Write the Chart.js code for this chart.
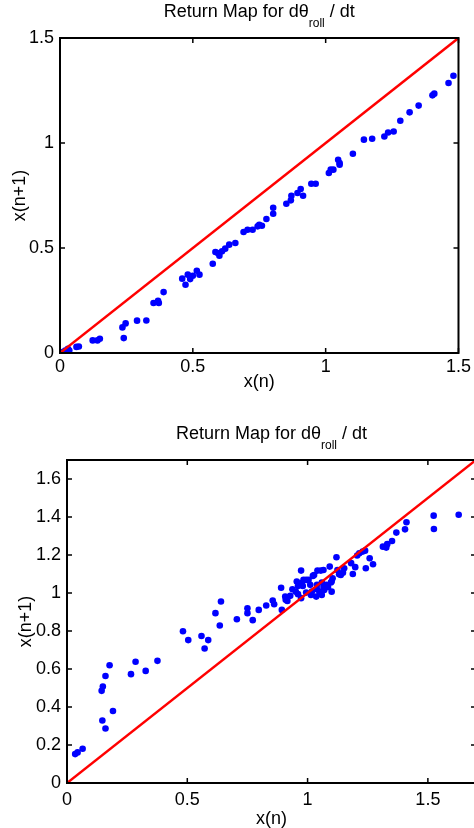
<!DOCTYPE html>
<html>
<head>
<meta charset="utf-8">
<title>Return Map</title>
<script src="https://cdn.jsdelivr.net/npm/chart.js@4.4.1/dist/chart.umd.min.js"></script>
<style>
  html, body { margin: 0; padding: 0; background: #fff; overflow: hidden; }
  canvas { position: absolute; left: 0; }
  #topChart { top: 0; }
  #bottomChart { top: 400px; }
</style>
</head>
<body>
<canvas id="topChart" width="474" height="400"></canvas>
<canvas id="bottomChart" width="480" height="428"></canvas>

<script>
// ================= DATA =================
const titleMain = "Return Map for dθ";
const titleSub = "roll";
const titleEnd = " / dt";
const xLabel = "x(n)";
const yLabel = "x(n+1)";

// top plot
const topX = [0.01, 0.02, 0.03, 0.035, 0.062, 0.071, 0.123, 0.141, 0.15, 0.235, 0.247, 0.24,
  0.29, 0.325, 0.352, 0.369, 0.372, 0.39, 0.46, 0.4725, 0.481, 0.49, 0.50, 0.515, 0.525,
  0.575, 0.585, 0.594, 0.60, 0.61, 0.622, 0.637, 0.66, 0.691, 0.706, 0.725, 0.744, 0.75,
  0.76, 0.777, 0.8025, 0.8025, 0.852, 0.869, 0.871, 0.894, 0.906, 0.915, 0.946, 0.9625,
  1.012, 1.019, 1.029, 1.047, 1.0525, 1.0525, 1.1025, 1.144, 1.175, 1.221, 1.235, 1.256,
  1.281, 1.316, 1.35, 1.402, 1.409, 1.4625, 1.481];
const topY = [0.005, 0.012, 0.02, 0.012, 0.029, 0.031, 0.06, 0.06, 0.068, 0.122, 0.141, 0.071,
  0.154, 0.155, 0.238, 0.249, 0.238, 0.29, 0.354, 0.325, 0.373, 0.352, 0.368, 0.392, 0.373,
  0.425, 0.481, 0.476, 0.463, 0.484, 0.497, 0.516, 0.524, 0.576, 0.587, 0.587, 0.603, 0.611,
  0.606, 0.638, 0.663, 0.692, 0.711, 0.727, 0.749, 0.762, 0.781, 0.749, 0.806, 0.806,
  0.857, 0.873, 0.873, 0.92, 0.905, 0.897, 0.949, 1.016, 1.02, 1.031, 1.05, 1.055,
  1.106, 1.146, 1.178, 1.227, 1.235, 1.286, 1.32];
const topDiag = [0, 1.5];

// bottom plot
const bottomX = [0.034, 0.044, 0.065, 0.144, 0.149, 0.16, 0.177, 0.147, 0.16, 0.191,
  0.266, 0.285, 0.327, 0.376, 0.482, 0.504, 0.559, 0.572, 0.587, 0.617, 0.635, 0.64,
  0.706, 0.75, 0.75, 0.772, 0.797, 0.828, 0.855, 0.861, 0.893, 0.89,
  0.907, 0.909, 0.916, 0.928, 0.937, 0.951, 0.96, 0.96, 0.973, 0.976, 0.98, 0.973,
  0.994, 0.994, 1.004, 1.011, 1.014, 1.022, 1.027, 1.036, 1.039, 1.039,
  1.041, 1.055, 1.066, 1.049, 1.059, 1.066, 1.069, 1.077, 1.085, 1.092, 1.097, 1.1,
  1.104, 1.1, 0.955, 0.983, 1.018, 1.059, 1.12, 1.124, 1.131, 1.138, 1.147, 1.152,
  1.181, 1.188, 1.198, 1.206, 1.215, 1.229, 1.239, 1.242, 1.258, 1.272,
  1.313, 1.327, 1.331, 1.351, 1.369, 1.405, 1.411, 1.524, 1.525, 1.628];
const bottomY = [0.152, 0.161, 0.18, 0.485, 0.508, 0.563, 0.62, 0.329, 0.287, 0.379,
  0.573, 0.638, 0.59, 0.643, 0.799, 0.752, 0.774, 0.708, 0.752, 0.894, 0.829, 0.955,
  0.862, 0.92, 0.894, 0.857, 0.911, 0.934, 0.96, 0.941, 0.911, 1.028,
  0.981, 0.964, 0.958, 0.985, 1.02, 1.007, 0.994, 1.037, 1.118, 1.052, 1.037, 0.973,
  1.002, 1.069, 1.069, 1.043, 0.99, 1.09, 1.095, 0.981, 1.02, 1.043,
  1.118, 1.118, 1.121, 1.007, 1.055, 1.031, 1.016, 1.043, 1.031, 1.139, 1.055, 1.06,
  1.078, 1.007, 1.06, 1.069, 1.007, 0.99, 1.188, 1.121, 1.099, 1.095, 1.107, 1.13,
  1.157, 1.1, 1.136, 1.197, 1.209, 1.218, 1.223, 1.13, 1.183, 1.151,
  1.244, 1.239, 1.257, 1.274, 1.318, 1.335, 1.372, 1.407, 1.337, 1.412];
const bottomDiag = [0, 1.7];

// ================= DEFAULTS =================
Chart.defaults.font.family = '"Liberation Sans", Arial, Helvetica, sans-serif';
Chart.defaults.font.size = 18;
Chart.defaults.color = "#000";

// ================= PLUGINS =================
// box round the plot with inward tick marks on all four sides
const framePlugin = {
  id: "frame",
  afterDatasetsDraw(chart) {
    const { ctx, chartArea: a, scales } = chart;
    const len = 5;
    ctx.save();
    ctx.strokeStyle = "#000";
    ctx.lineWidth = 1.5;
    ctx.beginPath();
    scales.x.ticks.forEach(t => {
      const px = scales.x.getPixelForValue(t.value);
      ctx.moveTo(px, a.bottom); ctx.lineTo(px, a.bottom - len);
      ctx.moveTo(px, a.top); ctx.lineTo(px, a.top + len);
    });
    scales.y.ticks.forEach(t => {
      const py = scales.y.getPixelForValue(t.value);
      ctx.moveTo(a.left, py); ctx.lineTo(a.left + len, py);
      ctx.moveTo(a.right, py); ctx.lineTo(a.right - len, py);
    });
    ctx.stroke();
    ctx.lineWidth = 2;
    ctx.strokeRect(a.left, a.top, a.right - a.left, a.bottom - a.top);
    ctx.restore();
  }
};

// title with a subscript, which the built-in title can't do
const subTitlePlugin = {
  id: "subTitle",
  afterDraw(chart, args, opts) {
    const { ctx, chartArea: a } = chart;
    const mainFont = '18px "Liberation Sans", Arial, sans-serif';
    const subFont = '12px "Liberation Sans", Arial, sans-serif';
    ctx.save();
    ctx.fillStyle = "#000";
    ctx.textBaseline = "alphabetic";
    ctx.font = mainFont;
    const w1 = ctx.measureText(titleMain).width;
    const w3 = ctx.measureText(titleEnd).width;
    ctx.font = subFont;
    const w2 = ctx.measureText(titleSub).width;
    let x = (a.left + a.right) / 2 - (w1 + w2 + w3) / 2;
    const y = opts.baseline;
    ctx.textAlign = "left";
    ctx.font = mainFont;
    ctx.fillText(titleMain, x, y);
    x += w1;
    ctx.font = subFont;
    ctx.fillText(titleSub, x, y + 10);
    x += w2;
    ctx.font = mainFont;
    ctx.fillText(titleEnd, x, y);
    ctx.restore();
  }
};

// ================= CHARTS =================
function toPoints(xs, ys) {
  return xs.map((v, i) => ({ x: v, y: ys[i] }));
}

// matlab style labels: 1 not 1.0
function tickLabel(v) {
  return String(Number(v.toFixed(2)));
}

function makeChart(id, cfg) {
  const canvas = document.getElementById(id);
  return new Chart(canvas.getContext("2d"), {
    type: "scatter",
    data: {
      datasets: [{
        type: "line",
        data: toPoints(cfg.diag, cfg.diag),
        borderColor: "#ff0000",
        borderWidth: 2.5,
        pointRadius: 0,
        fill: false,
        order: 0
      }, {
        data: toPoints(cfg.xs, cfg.ys),
        backgroundColor: "#0000ff",
        borderWidth: 0,
        pointRadius: 3.3,
        order: 1
      }]
    },
    options: {
      responsive: false,
      animation: false,
      layout: { padding: cfg.padding },
      plugins: {
        legend: { display: false },
        tooltip: { enabled: false },
        subTitle: { baseline: cfg.titleBaseline }
      },
      scales: {
        x: {
          type: "linear",
          min: 0,
          max: cfg.max,
          grid: { display: false, drawTicks: false },
          border: { display: false },
          ticks: { stepSize: 0.5, includeBounds: false, padding: cfg.xTickPad, maxRotation: 0, callback: tickLabel },
          title: { display: true, text: xLabel, font: { size: 18, lineHeight: 1 }, padding: { top: 0, bottom: cfg.xTitlePad } },
          afterFit: s => { s.height = cfg.xHeight; }
        },
        y: {
          type: "linear",
          min: 0,
          max: cfg.max,
          grid: { display: false, drawTicks: false },
          border: { display: false },
          ticks: { stepSize: cfg.yStep, includeBounds: false, padding: 6, callback: tickLabel },
          title: { display: true, text: yLabel, font: { size: 18, lineHeight: 1 }, padding: { top: cfg.yTitlePad, bottom: 0 } },
          afterFit: s => { s.width = cfg.yWidth; }
        }
      }
    },
    plugins: [framePlugin, subTitlePlugin]
  });
}

makeChart("topChart", {
  xs: topX, ys: topY, diag: topDiag, max: 1.5, yStep: 0.5,
  padding: { left: 0, top: 38, right: 14, bottom: 0 },
  yWidth: 60, xHeight: 47,
  xTickPad: 3, xTitlePad: 9, yTitlePad: 11,
  titleBaseline: 17
});

makeChart("bottomChart", {
  xs: bottomX, ys: bottomY, diag: bottomDiag, max: 1.7, yStep: 0.2,
  padding: { left: 0, top: 60, right: 4, bottom: 0 },
  yWidth: 67, xHeight: 45,
  xTickPad: 6, xTitlePad: 0, yTitlePad: 17,
  titleBaseline: 39
});
</script>
</body>
</html>
